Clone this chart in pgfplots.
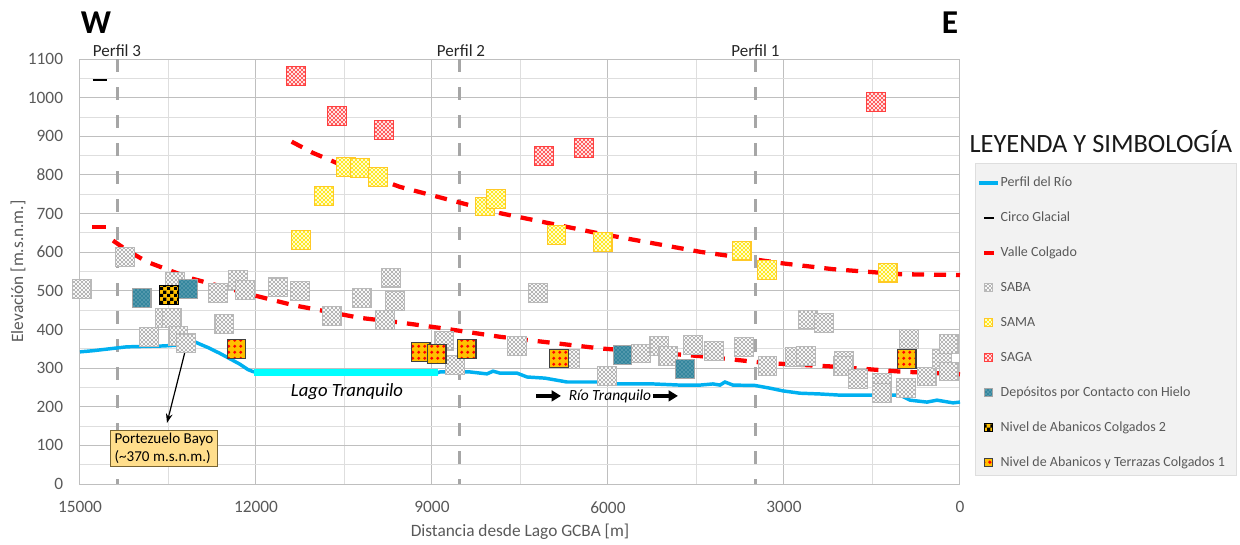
\documentclass[border=0pt]{standalone}
\usepackage{fontspec}
\setmainfont{Carlito}
\usepackage{pgfplots}
\pgfplotsset{compat=1.18}
\usetikzlibrary{patterns,arrows.meta}
\definecolor{river}{RGB}{0,176,240}
\definecolor{lake}{RGB}{0,255,255}
\definecolor{tickgray}{RGB}{89,89,89}
\definecolor{gridmaj}{RGB}{191,191,191}
\definecolor{gridmin}{RGB}{222,222,222}
\definecolor{perfil}{RGB}{166,166,166}
\definecolor{depblue}{RGB}{49,133,156}
\definecolor{nivorange}{RGB}{255,192,0}
\definecolor{boxfill}{RGB}{255,222,140}
\definecolor{boxdraw}{RGB}{120,100,50}
\definecolor{legfill}{RGB}{242,242,242}
\definecolor{vred}{RGB}{255,0,0}

\pgfdeclarepatternformonly{xhatch}{\pgfqpoint{-0.5pt}{-0.5pt}}{\pgfqpoint{3.5pt}{3.5pt}}{\pgfqpoint{3pt}{3pt}}{%
  \pgfsetlinewidth{0.45pt}%
  \pgfpathmoveto{\pgfqpoint{0pt}{0pt}}\pgfpathlineto{\pgfqpoint{3pt}{3pt}}%
  \pgfpathmoveto{\pgfqpoint{0pt}{3pt}}\pgfpathlineto{\pgfqpoint{3pt}{0pt}}%
  \pgfusepath{stroke}}
\pgfdeclarepatternformonly{bigdots}{\pgfqpoint{0pt}{0pt}}{\pgfqpoint{4.6pt}{4.6pt}}{\pgfqpoint{4.6pt}{4.6pt}}{%
  \pgfpathcircle{\pgfqpoint{2.3pt}{2.3pt}}{1.45pt}\pgfusepath{fill}}
\pgfdeclarepatternformonly{smallchecker}{\pgfqpoint{0pt}{0pt}}{\pgfqpoint{5pt}{5pt}}{\pgfqpoint{5pt}{5pt}}{%
  \pgfpathrectangle{\pgfqpoint{0pt}{0pt}}{\pgfqpoint{2.5pt}{2.5pt}}%
  \pgfpathrectangle{\pgfqpoint{2.5pt}{2.5pt}}{\pgfqpoint{2.5pt}{2.5pt}}\pgfusepath{fill}}

\newcommand\sqpath{\pgfpathrectangle{\pgfqpoint{-\pgfplotmarksize}{-\pgfplotmarksize}}{\pgfqpoint{2\pgfplotmarksize}{2\pgfplotmarksize}}}
% #1 background, #2 pattern, #3 pattern colour, #4 border
\newcommand\patmark[4]{%
  \sqpath\pgfsetfillcolor{#1}\pgfusepathqfill
  \sqpath\pgfsetfillpattern{#2}{#3}\pgfusepathqfill
  \sqpath\pgfsetlinewidth{0.8pt}\pgfsetstrokecolor{#4}\pgfusepathqstroke}
\pgfdeclareplotmark{saba}{\patmark{white}{xhatch}{gray!70}{gray!55}}
\pgfdeclareplotmark{sama}{\patmark{yellow!12}{xhatch}{yellow!80!orange}{nivorange!85}}
\pgfdeclareplotmark{saga}{\patmark{red!6}{xhatch}{red!75}{red!75}}
\pgfdeclareplotmark{dep}{\patmark{depblue}{xhatch}{depblue!80!white}{gray!70}}
\pgfdeclareplotmark{niv2}{\patmark{nivorange}{smallchecker}{black}{black}}
\pgfdeclareplotmark{niv1}{\patmark{nivorange}{bigdots}{red}{black!75}}

\pgfplotsset{
  legline/.style={legend image code/.code={\draw[##1] (0pt,0pt) -- (14pt,0pt);}},
  legshort/.style={legend image code/.code={\path[draw=none,fill=none] (0pt,0pt) -- (14pt,0pt); \draw[##1,solid] (4pt,0pt) -- (11pt,0pt);}},
  legmark/.style={legend image code/.code={\path[draw=none,fill=none] (0pt,0pt) -- (14pt,0pt); \draw[##1,mark size=3pt,only marks] plot coordinates {(7pt,0pt)};}},
}

\begin{document}
\begin{tikzpicture}
\path[use as bounding box] (0,0) rectangle (930pt,408pt);
\fill[legfill, draw=gridmin] (731.25pt,285.75pt) rectangle (927pt,51.75pt);
\begin{axis}[
  at={(60pt,45pt)}, anchor=south west,
  scale only axis, width=660pt, height=318.75pt,
  xmin=0, xmax=15000, ymin=0, ymax=1100, x dir=reverse,
  xtick={0,3000,...,15000}, ytick={0,100,...,1100},
  scaled x ticks=false, scaled y ticks=false,
  minor x tick num=1, minor y tick num=1,
  grid=both,
  major grid style={gridmaj, line width=0.75pt},
  minor grid style={gridmin, line width=0.6pt},
  axis line style={gridmaj, line width=0.75pt},
  major tick length=0pt, minor tick length=0pt,
  tick label style={font=\fontsize{13}{15}\selectfont, text=tickgray},
  /pgf/number format/assume math mode=true,
  /pgf/number format/set thousands separator={},
  xticklabel style={inner ysep=0pt, yshift=-13pt},
  yticklabel style={inner xsep=0pt, xshift=-12.5pt},
  xlabel={Distancia desde Lago GCBA [m]},
  ylabel={Elevación [m.s.n.m.]},
  label style={font=\fontsize{13}{15}\selectfont, text=tickgray},
  xlabel style={at={(axis description cs:0.5,-0.113)}, anchor=center},
  ylabel style={at={(axis description cs:-0.0705,0.5)}, anchor=center},
  clip=false,
  legend cell align=left,
  legend style={at={(axis description cs:1.017,0.7553)}, anchor=north west,
    draw=none, fill=none, font=\fontsize{10.5}{12}\selectfont, text=tickgray,
    row sep=13.75pt, inner xsep=1.5pt, inner ysep=8.5pt,
    nodes={text height=8pt, text depth=2.5pt, inner ysep=1pt, inner xsep=1pt}},
]
% profile lines
\addplot[perfil, line width=2.25pt, dash pattern=on 9.75pt off 11.25pt, forget plot] coordinates {(14369,1100) (14369,0)};
\addplot[perfil, line width=2.25pt, dash pattern=on 9.75pt off 11.25pt, forget plot] coordinates {(8523,1100) (8523,0)};
\addplot[perfil, line width=2.25pt, dash pattern=on 9.75pt off 11.25pt, forget plot] coordinates {(3494,1100) (3494,0)};
% river
\addplot[river, line width=2.6pt, legline] coordinates {
(15000,342) (14778,345) (14204,355) (13636,357) (13352,359) (13200,364) (13074,370) (12955,362)
(12800,352) (12614,338) (12443,324) (12273,310) (12136,296) (12051,291) (11966,288) (8900,288)
(8864,290) (8352,290) (8063,285) (7960,292) (7841,287) (7551,287) (7381,277) (7074,274)
(6699,264) (6136,264) (5847,259) (5233,259) (4773,256) (4432,256) (4210,259) (4091,256)
(4006,264) (3869,256) (3494,255) (3239,248) (3017,241) (2727,235) (2386,233) (2045,230)
(1364,230) (1023,230) (852,217) (563,212) (392,217) (119,210) (0,212)};
\addlegendentry{Perfil del Río}
% lake
\addplot[lake, line width=5.5pt, forget plot] coordinates {(12034,288) (8898,288)};
% circo
\addplot[black, line width=1.5pt, legshort] coordinates {(14784,1046) (14545,1046)};
\addlegendentry{Circo Glacial}
% valle colgado
\addplot[vred, line width=3pt, legshort] coordinates {(14790,665) (14560,665)};
\addlegendentry{Valle Colgado}
\addplot[vred, line width=3.2pt, dash pattern=on 9pt off 7.5pt, forget plot] coordinates {
(14437,630) (14199,605) (13858,575) (13125,533) (12051,489) (11369,463) (10227,430) (9546,418)
(8864,404) (7841,381) (6136,351) (4432,331) (3290,313) (2165,304) (1023,291) (0,284)};
\addplot[vred, line width=3.2pt, dash pattern=on 9pt off 7.5pt, forget plot] coordinates {
(11392,886) (11029,857) (10347,813) (9546,769) (7841,701) (6136,648) (4432,601) (3017,571)
(2165,556) (1023,543) (0,541)};
% SABA
\addplot[only marks, mark=saba, mark size=7pt, legmark] coordinates {
(14971,504) (14233,588) (13381,524) (12643,495) (12302,528) (12188,502) (11620,509) (11250,500)
(13551,429) (13437,429) (13819,380) (13324,383) (13193,364) (12540,414) (10710,435) (10199,482)
(9699,534) (9631,474) (9801,424) (8790,371) (8608,308) (7546,357) (7188,494) (6648,323)
(6012,280) (5438,338) (5125,357) (4972,331) (4556,359) (4188,345) (3677,355) (3279,305)
(2810,328) (2625,331) (2591,426) (2318,416) (1977,319) (1989,305) (1739,272) (1330,262)
(1335,236) (870,376) (921,249) (568,278) (307,323) (193,362) (193,291)};
\addlegendentry{SABA}
% SAMA
\addplot[only marks, mark=sama, mark size=7pt, legmark] coordinates {
(11233,631) (10466,820) (10227,818) (9921,795) (10841,745) (8097,718) (7909,738) (6876,644)
(6091,627) (3722,604) (3285,554) (1233,547)};
\addlegendentry{SAMA}
% SAGA
\addplot[only marks, mark=saga, mark size=7pt, legmark] coordinates {
(11318,1056) (10619,952) (9818,916) (7091,849) (6409,870) (1432,989)};
\addlegendentry{SAGA}
% Depositos
\addplot[only marks, mark=dep, mark size=7pt, legmark] coordinates {
(13949,481) (13154,504) (5751,334) (4688,298)};
\addlegendentry{Depósitos por Contacto con Hielo}
% Nivel 2
\addplot[only marks, mark=niv2, mark size=7pt, legmark] coordinates {(13483,489)};
\addlegendentry{Nivel de Abanicos Colgados 2}
% Nivel 1
\addplot[only marks, mark=niv1, mark size=7pt, legmark] coordinates {
(12330,349) (9193,342) (8920,336) (8409,349) (6835,325) (909,324)};
\addlegendentry{Nivel de Abanicos y Terrazas Colgados 1}

% annotations
\node[font=\itshape\fontsize{14}{16}\selectfont] at (axis cs:10449,238) {Lago Tranquilo};
\node[font=\itshape\fontsize{11.6}{13}\selectfont] at (axis cs:5966,228) {Río Tranquilo};
\draw[-{Triangle[length=7pt,width=8pt]}, line width=2.6pt] (axis cs:7227,228) -- (axis cs:6801,228);
\draw[-{Triangle[length=7pt,width=8pt]}, line width=2.6pt] (axis cs:5233,228) -- (axis cs:4807,228);
\draw[-{Stealth[length=7pt,width=5pt]}, line width=0.9pt] (axis cs:13159,373) -- (axis cs:13517,158);
\node[fill=boxfill, draw=boxdraw, line width=0.6pt, align=left, inner xsep=3pt, inner ysep=2pt,
  font=\fontsize{11.3}{13.5}\selectfont] at (axis cs:13568,93) {Portezuelo Bayo\\(\textasciitilde370 m.s.n.m.)};
\end{axis}
\node[font=\bfseries\fontsize{25}{27}\selectfont] at (72pt,391pt) {W};
\node[font=\bfseries\fontsize{25}{27}\selectfont] at (712.5pt,391pt) {E};
\node[font=\fontsize{12.75}{14}\selectfont, text=black!85, anchor=base] at (87.75pt,365.25pt) {Perfil 3};
\node[font=\fontsize{12.75}{14}\selectfont, text=black!85, anchor=base] at (345.75pt,365.25pt) {Perfil 2};
\node[font=\fontsize{12.75}{14}\selectfont, text=black!85, anchor=base] at (566.6pt,365.25pt) {Perfil 1};
\node[font=\fontsize{19.8}{22}\selectfont, text=black!90, anchor=base west, inner sep=0pt] at (727pt,294pt) {LEYENDA Y SIMBOLOGÍA};
\end{tikzpicture}
\end{document}
